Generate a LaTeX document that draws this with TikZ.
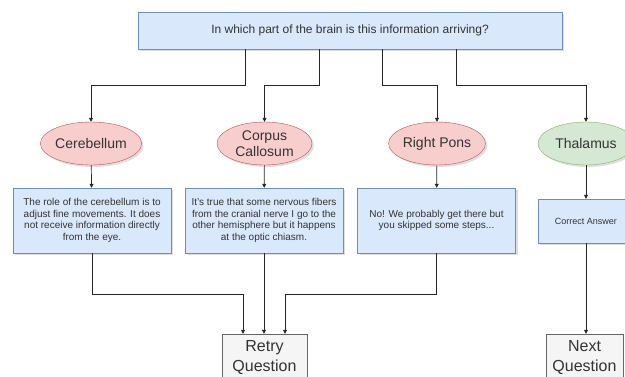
\documentclass[tikz,border=0pt]{standalone}
\usepackage{fontspec}
\setmainfont{Liberation Sans}
\usetikzlibrary{arrows.meta,shadows,shapes.geometric}

\definecolor{infofill}{HTML}{DAE8FC}
\definecolor{infoline}{HTML}{6C8EBF}
\definecolor{wrongfill}{HTML}{F8CECC}
\definecolor{wrongline}{HTML}{B85450}
\definecolor{rightfill}{HTML}{D5E8D4}
\definecolor{rightline}{HTML}{82B366}
\definecolor{navfill}{HTML}{F5F5F5}
\definecolor{navline}{HTML}{666666}
\definecolor{textgray}{HTML}{333333}

\tikzset{
  shade/.style={drop shadow={shadow xshift=2pt,shadow yshift=-2pt,opacity=0.25}},
  infobox/.style={draw=infoline,fill=infofill,shade,align=center,text=textgray,
    minimum width=158pt,minimum height=65pt,inner sep=2pt,
    font=\fontsize{10}{11.8}\selectfont},
  region/.style={ellipse,draw=wrongline,fill=wrongfill,shade,align=center,text=textgray,
    minimum width=95pt,minimum height=43pt,inner sep=0pt,
    font=\fontsize{14}{16.5}\selectfont},
  navbox/.style={draw=navline,fill=navfill,align=center,text=textgray,
    minimum height=47pt,inner sep=1pt,font=\fontsize{16}{19.5}\selectfont},
  link/.style={draw=black!85,line width=0.7pt,-{Triangle[length=4pt,width=4pt]}}
}

\begin{document}
\begin{tikzpicture}[x=1pt,y=-1pt]
\useasboundingbox (0,0) rectangle (625,376);
\clip (0,0) rectangle (625,376);

% question
\node[infobox,minimum width=424pt,minimum height=37pt,
  font=\fontsize{12}{14}\selectfont] (question) at (350,30.5)
  {In which part of the brain is this information arriving?};

% answers
\node[region] (cerebellum) at (91,143.5) {Cerebellum};
\node[region] (corpus) at (264.5,143.5) {Corpus\\Callosum};
\node[region] (pons) at (437,143.5) {Right Pons};
\node[region,draw=rightline,fill=rightfill,minimum width=96pt] (thalamus) at (586,143.5) {Thalamus};

% feedback
\node[infobox] (cerebellumtext) at (92,220.5)
  {The role of the cerebellum is to\\adjust fine movements. It does\\not receive information directly\\from the eye.};
\node[infobox] (corpustext) at (264,220.5)
  {It's true that some nervous fibers\\from the cranial nerve I go to the\\other hemisphere but it happens\\at the optic chiasm.};
\node[infobox] (ponstext) at (436.5,220.5)
  {No! We probably get there but\\you skipped some steps...};
\node[infobox,minimum width=96pt,minimum height=44pt,
  font=\fontsize{9}{11}\selectfont] (correcttext) at (586,221) {Correct Answer};

% navigation
\node[navbox,minimum width=85pt] (retry) at (264.5,357.5) {Retry\\Question};
\node[navbox,minimum width=77pt] (next) at (584.5,357.5) {Next\\Question};

% connectors
\draw[link] ([xshift=-105pt]question.south) -- ++(0,36) -| (cerebellum.north);
\draw[link] ([xshift=-31pt]question.south) -- ++(0,36) -| (corpus.north);
\draw[link] ([xshift=32pt]question.south) -- ++(0,36) -| (pons.north);
\draw[link] ([xshift=106pt]question.south) -- ++(0,36) -| (thalamus.north);

\draw[link] (cerebellum) -- (cerebellumtext);
\draw[link] (corpus) -- (corpustext);
\draw[link] (pons) -- (ponstext);
\draw[link] (thalamus) -- (correcttext);

\draw[link] (cerebellumtext.south) -- ++(0,41) -| ([xshift=-21.5pt]retry.north);
\draw[link] (corpustext.south) -- (corpustext.south |- retry.north);
\draw[link] (ponstext.south) -- ++(0,41) -| ([xshift=20.5pt]retry.north);
\draw[link] (correcttext.south) -- (correcttext.south |- next.north);
\end{tikzpicture}
\end{document}
